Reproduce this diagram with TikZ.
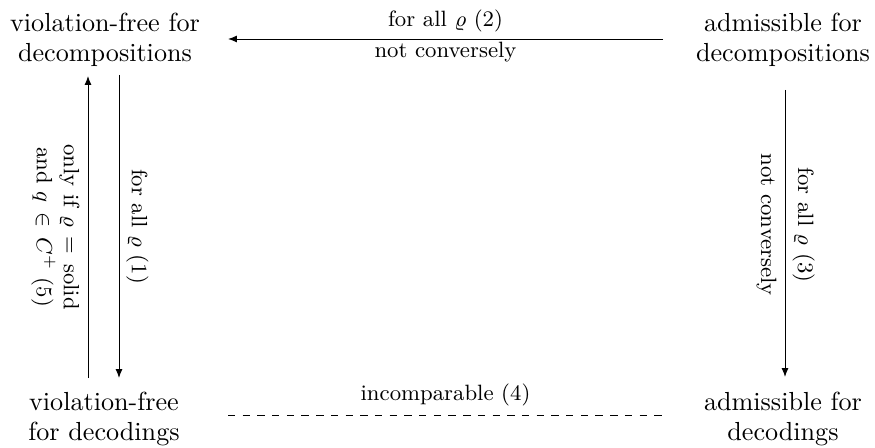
\documentclass[tikz,border=0pt]{standalone}
\usetikzlibrary{calc,arrows.meta}
\begin{document}
\begin{tikzpicture}[x=0.4082pt,y=-0.4082pt,
  statebox/.style={align=center,font=\fontsize{10.67}{12.3}\selectfont},
  edgelabel/.style={font=\fontsize{9.05}{11}\selectfont},
  arr/.style={-{Latex[length=3.6pt,width=2.8pt]}}]
\useasboundingbox (0,0) rectangle (875,448);
\node[statebox] (tl) at (105,40) {violation-free for\\decompositions};
\node[statebox] (tr) at (783,40) {admissible for\\decompositions};
\node[statebox] (bl) at (104,419) {violation-free\\for decodings};
\node[statebox] (br) at (783,419) {admissible for\\decodings};

\draw[arr] ($(tr.center)+(-120,-1)$) --
  node[edgelabel,anchor=base,yshift=5pt]{for all $\varrho$ (2)}
  node[edgelabel,anchor=base,yshift=-7.5pt]{not conversely}
  ($(tl.center)+(123,-1)$);
\draw[arr] ($(bl.center)+(-16,-41)$) --
  node[edgelabel,midway,xshift=-3.3pt,rotate=-90,anchor=north,inner sep=0pt,align=center]{only if $\varrho \,=\, \mathrm{solid}$\\and $q \,\in\, C^+$ (5)}
  ($(tl.center)+(-17,36)$);
\draw[arr] ($(tl.center)+(14,35)$) --
  node[edgelabel,midway,xshift=5.3pt,rotate=-90,anchor=base]{for all $\varrho$ (1)}
  ($(bl.center)+(15,-41)$);
\draw[arr] ($(tr.center)+(2,50)$) --
  node[edgelabel,pos=0.47,xshift=5.3pt,rotate=-90,anchor=base]{for all $\varrho$ (3)}
  node[edgelabel,pos=0.47,xshift=-3.3pt,rotate=-90,anchor=north,inner sep=0pt]{not conversely}
  ($(br.center)+(2,-42)$);
\draw[dashed] ($(bl.center)+(124,-4)$) --
  node[edgelabel,anchor=base,yshift=6.1pt]{incomparable (4)}
  ($(br.center)+(-120,-4)$);
\end{tikzpicture}
\end{document}
